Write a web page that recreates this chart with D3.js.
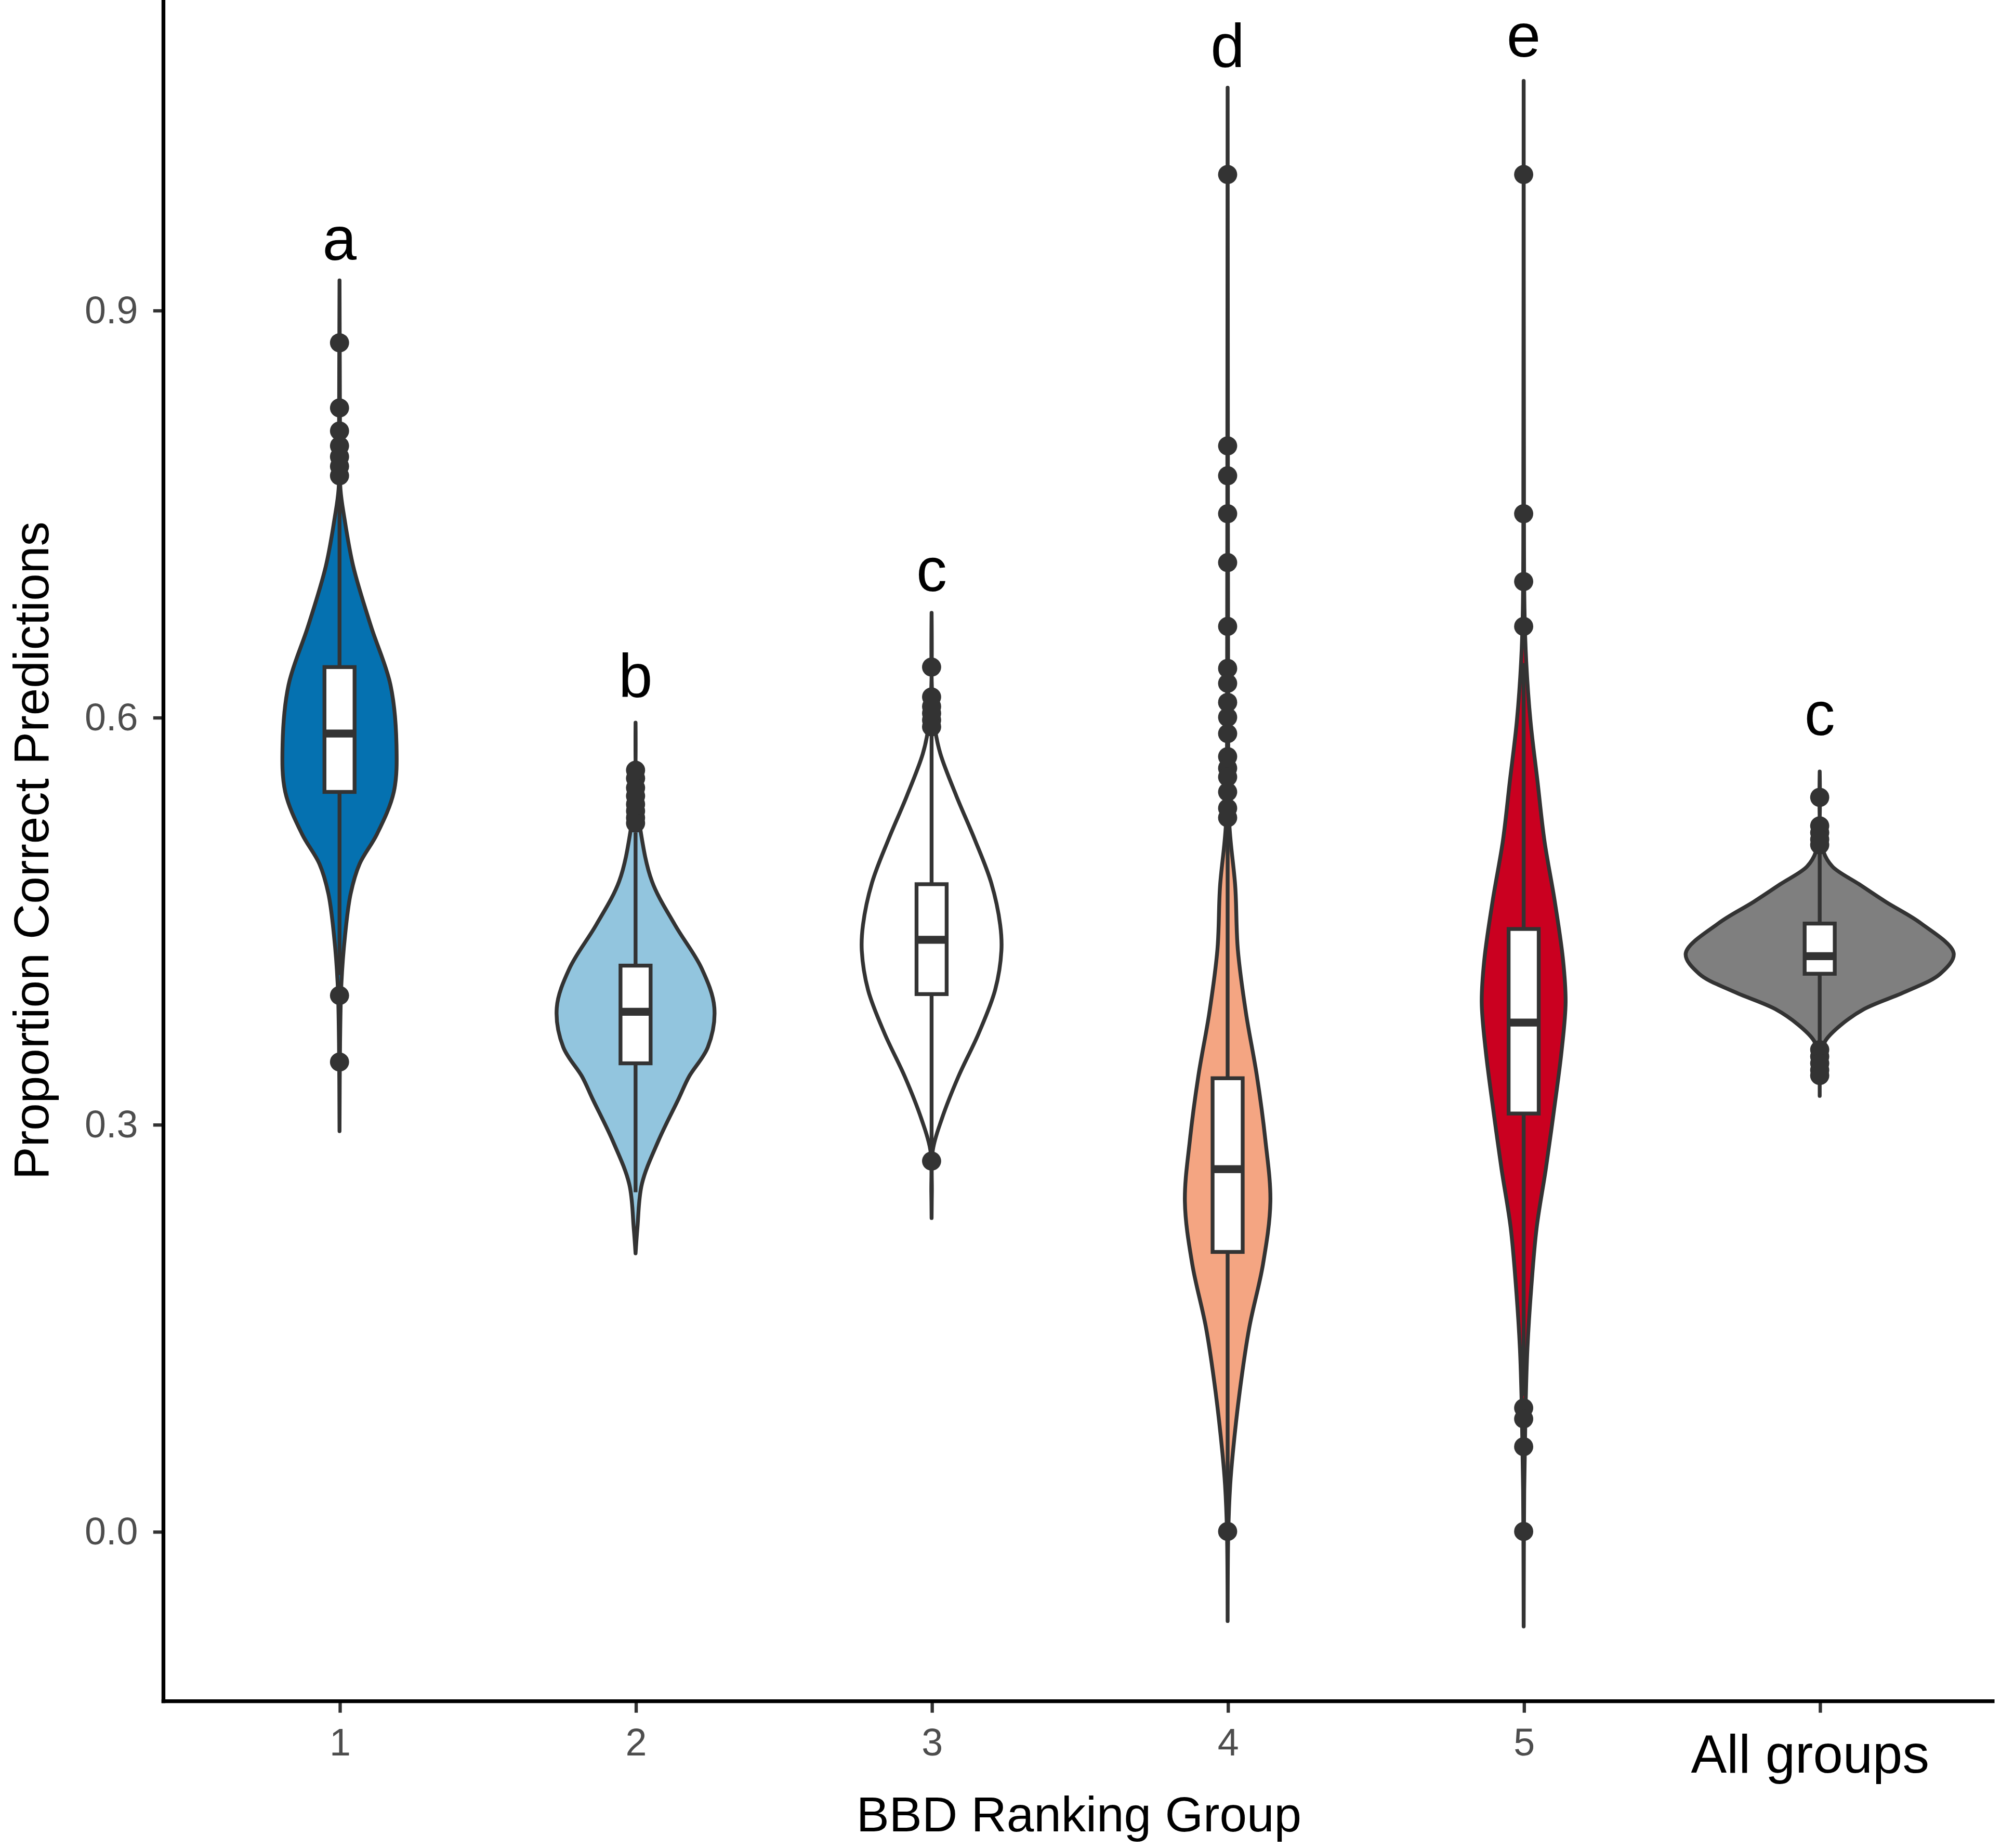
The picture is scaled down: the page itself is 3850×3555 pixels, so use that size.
<!DOCTYPE html>
<html>
<head>
<meta charset="utf-8">
<script src="https://cdn.jsdelivr.net/npm/d3@7"></script>
<style>
  body { margin: 0; background: #fff; }
  text { font-family: "Liberation Sans", Arial, sans-serif; }
</style>
</head>
<body>
<svg id="chart"></svg>
<script>
// groups on the x axis
const categories = ["1", "2", "3", "4", "5", "All groups"];
const groupLetters = ["a", "b", "c", "d", "e", "c"];
const letterY = [0.937, 0.615, 0.693, 1.079, 1.087, 0.587];

// boxplot stats
const q1 = [0.545, 0.345, 0.396, 0.206, 0.308, 0.411];
const medians = [0.588, 0.383, 0.436, 0.267, 0.375, 0.424];
const q3 = [0.637, 0.417, 0.477, 0.334, 0.444, 0.448];
const whiskerLow = [0.41, 0.25, 0.28, 0.02, 0.10, 0.357];
const whiskerHigh = [0.77, 0.515, 0.59, 0.52, 0.64, 0.50];

const outliers = [
  [0.876, 0.828, 0.811, 0.80, 0.792, 0.785, 0.778, 0.395, 0.346],
  [0.561, 0.555, 0.548, 0.542, 0.536, 0.531, 0.526, 0.522],
  [0.637, 0.615, 0.608, 0.603, 0.598, 0.593, 0.273],
  [1.0, 0.8, 0.778, 0.75, 0.714, 0.667, 0.636, 0.625, 0.611, 0.6, 0.588, 0.571, 0.5625, 0.556, 0.545, 0.533, 0.526, 0.0],
  [1.0, 0.75, 0.70, 0.667, 0.091, 0.083, 0.0625, 0.0],
  [0.541, 0.52, 0.515, 0.51, 0.506, 0.355, 0.35, 0.345, 0.34, 0.336]
];

// violin outlines: [value, relative density] (1 = widest violin)
const violins = [
  [[0.922, 0], [0.86, 0.002], [0.80, 0.004], [0.768, 0.007], [0.747, 0.036], [0.711, 0.103], [0.667, 0.235],
   [0.624, 0.38], [0.58, 0.425], [0.545, 0.405], [0.514, 0.28], [0.492, 0.15], [0.47, 0.083],
   [0.439, 0.041], [0.404, 0.014], [0.36, 0.004], [0.295, 0]],
  [[0.596, 0], [0.55, 0.005], [0.516, 0.038], [0.479, 0.123], [0.447, 0.294], [0.415, 0.493], [0.386, 0.588],
   [0.357, 0.540], [0.335, 0.398], [0.319, 0.322], [0.288, 0.171], [0.256, 0.047], [0.224, 0.014], [0.205, 0]],
  [[0.677, 0], [0.62, 0.003], [0.59, 0.028], [0.573, 0.066], [0.542, 0.185], [0.51, 0.322], [0.478, 0.445],
   [0.447, 0.512], [0.428, 0.521], [0.399, 0.474], [0.367, 0.351], [0.335, 0.199], [0.304, 0.076],
   [0.281, 0.009], [0.25, 0.002], [0.231, 0]],
  [[1.064, 0], [0.8, 0.002], [0.6, 0.004], [0.521, 0.013], [0.475, 0.057], [0.429, 0.076], [0.382, 0.137],
   [0.336, 0.218], [0.289, 0.281], [0.243, 0.319], [0.197, 0.264], [0.15, 0.161], [0.103, 0.09],
   [0.057, 0.038], [0.034, 0.019], [0.0, 0.005], [-0.066, 0]],
  [[1.069, 0], [0.8, 0.002], [0.68, 0.006], [0.641, 0.019], [0.597, 0.051], [0.553, 0.103], [0.509, 0.155],
   [0.465, 0.231], [0.421, 0.294], [0.39, 0.313], [0.355, 0.284], [0.311, 0.227], [0.267, 0.165],
   [0.224, 0.097], [0.18, 0.057], [0.135, 0.028], [0.091, 0.014], [0.03, 0.004], [-0.07, 0]],
  [[0.56, 0], [0.52, 0.003], [0.501, 0.028], [0.49, 0.095], [0.477, 0.294], [0.464, 0.493], [0.448, 0.758],
   [0.426, 1.0], [0.411, 0.9], [0.398, 0.645], [0.385, 0.332], [0.373, 0.155], [0.362, 0.045],
   [0.356, 0.019], [0.34, 0.003], [0.321, 0]]
];

const yTicks = [0.0, 0.3, 0.6, 0.9];
const fills = ["#0571b0", "#92c5de", "#ffffff", "#f4a582", "#ca0020", "#7f7f7f"];

const W = 1568, H = 1448;
const panel = {left: 128, right: 1563, top: 0, bottom: 1333};
const ink = "#333333";
const lw = 3.0;

const svg = d3.select("#chart")
  .attr("width", 3850)
  .attr("height", 3555)
  .attr("viewBox", `0 0 ${W} ${H}`);

svg.append("rect").attr("width", W).attr("height", H).attr("fill", "white");

const x = d3.scalePoint().domain(categories).range([266, 1426]);
const y = d3.scaleLinear().domain([-0.1251, 1.1286]).range([panel.bottom, panel.top]);
const w = d3.scaleLinear().domain([0, 1]).range([0, 105]);
const boxHalf = 11.8;

const groups = categories.map((c, i) => ({
  cat: c, fill: fills[i], violin: violins[i], q1: q1[i], med: medians[i], q3: q3[i],
  lo: whiskerLow[i], hi: whiskerHigh[i], out: outliers[i], letter: groupLetters[i], ly: letterY[i]
}));

const g = svg.selectAll("g.group")
  .data(groups)
  .enter().append("g")
  .attr("class", "group");

// violins
g.append("path")
  .attr("d", d => {
    const cx = x(d.cat);
    return d3.area()
      .y(p => y(p[0]))
      .x0(p => cx - w(p[1]))
      .x1(p => cx + w(p[1]))
      .curve(d3.curveCatmullRom.alpha(0.5))(d.violin);
  })
  .attr("fill", d => d.fill)
  .attr("stroke", ink)
  .attr("stroke-width", lw)
  .attr("stroke-linejoin", "round");

// whiskers
g.append("line")
  .attr("x1", d => x(d.cat)).attr("x2", d => x(d.cat))
  .attr("y1", d => y(d.hi)).attr("y2", d => y(d.q3))
  .attr("stroke", ink).attr("stroke-width", lw);
g.append("line")
  .attr("x1", d => x(d.cat)).attr("x2", d => x(d.cat))
  .attr("y1", d => y(d.q1)).attr("y2", d => y(d.lo))
  .attr("stroke", ink).attr("stroke-width", lw);

// boxes
g.append("rect")
  .attr("x", d => x(d.cat) - boxHalf)
  .attr("width", boxHalf * 2)
  .attr("y", d => y(d.q3))
  .attr("height", d => y(d.q1) - y(d.q3))
  .attr("fill", "white")
  .attr("stroke", ink)
  .attr("stroke-width", lw);

g.append("line")
  .attr("x1", d => x(d.cat) - boxHalf).attr("x2", d => x(d.cat) + boxHalf)
  .attr("y1", d => y(d.med)).attr("y2", d => y(d.med))
  .attr("stroke", ink).attr("stroke-width", 6.2);

// outliers
g.selectAll("circle")
  .data(d => d.out.map(v => ({cat: d.cat, v})))
  .enter().append("circle")
  .attr("cx", d => x(d.cat))
  .attr("cy", d => y(d.v))
  .attr("r", 7.5)
  .attr("fill", ink);

// significance letters
g.append("text")
  .attr("x", d => x(d.cat))
  .attr("y", d => y(d.ly))
  .attr("text-anchor", "middle")
  .style("font-size", "48px")
  .attr("fill", "black")
  .text(d => d.letter);

// y axis
const yAxis = svg.append("g")
  .attr("transform", `translate(${panel.left},0)`)
  .call(d3.axisLeft(y).tickValues(yTicks).tickFormat(d3.format(".1f")).tickSize(8).tickPadding(12));
yAxis.select(".domain").remove();
yAxis.selectAll(".tick line").attr("stroke", ink).attr("stroke-width", 2.6);
yAxis.selectAll(".tick text")
  .attr("fill", "#4d4d4d")
  .style("font-size", "30px")
  .attr("font-family", "Liberation Sans, Arial, sans-serif");

// x axis
const xAxis = svg.append("g")
  .attr("transform", `translate(0,${panel.bottom})`)
  .call(d3.axisBottom(x).tickSize(9).tickPadding(12));
xAxis.select(".domain").remove();
xAxis.selectAll(".tick line").attr("stroke", ink).attr("stroke-width", 2.6);
xAxis.selectAll(".tick text")
  .attr("font-family", "Liberation Sans, Arial, sans-serif")
  .attr("fill", d => d === "All groups" ? "black" : "#4d4d4d")
  .style("font-size", d => d === "All groups" ? "42px" : "30px")
  .attr("dx", d => d === "All groups" ? -8 : 0)
  .attr("dy", d => d === "All groups" ? "0.83em" : "0.71em");

// axis lines
svg.append("line")
  .attr("x1", panel.left).attr("x2", panel.left)
  .attr("y1", panel.top).attr("y2", panel.bottom + 1.5)
  .attr("stroke", "black").attr("stroke-width", 3);
svg.append("line")
  .attr("x1", panel.left - 1.5).attr("x2", panel.right)
  .attr("y1", panel.bottom).attr("y2", panel.bottom)
  .attr("stroke", "black").attr("stroke-width", 3);

// axis titles
svg.append("text")
  .attr("x", (panel.left + panel.right) / 2)
  .attr("y", 1435)
  .attr("text-anchor", "middle")
  .style("font-size", "38.5px")
  .attr("fill", "black")
  .text("BBD Ranking Group");

svg.append("text")
  .attr("transform", `translate(38,${(panel.top + panel.bottom) / 2}) rotate(-90)`)
  .attr("text-anchor", "middle")
  .style("font-size", "38.5px")
  .attr("fill", "black")
  .text("Proportion Correct Predictions");
</script>
</body>
</html>
